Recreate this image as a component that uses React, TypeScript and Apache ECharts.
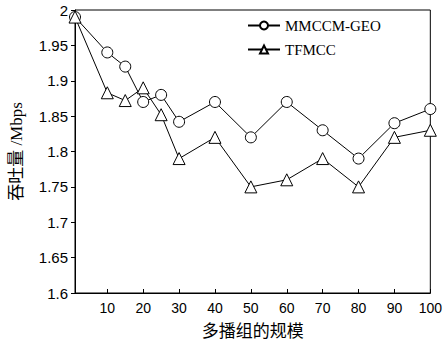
import React, { useEffect, useRef } from "react";
import * as echarts from "echarts";

const xValues = [1, 10, 15, 20, 25, 30, 40, 50, 60, 70, 80, 90, 100];
const mmccmGeo = [1.99, 1.94, 1.92, 1.87, 1.88, 1.842, 1.87, 1.82, 1.87, 1.83, 1.79, 1.84, 1.86];
const tfmcc = [1.99, 1.883, 1.872, 1.89, 1.852, 1.79, 1.82, 1.75, 1.76, 1.79, 1.75, 1.82, 1.83];
const xTicks = [10, 20, 30, 40, 50, 60, 70, 80, 90, 100];

export default function App() {
  const ref = useRef<HTMLDivElement>(null);
  useEffect(() => {
    if (!ref.current) return;
    const chart = echarts.init(ref.current, null, { renderer: "svg" });
    const mk = (vals: number[]) => xValues.map((x, i) => [x, vals[i]]);
    chart.setOption({
      animation: false,
      backgroundColor: "#fff",
      grid: { left: 73, top: 10, right: 14, bottom: 52, show: true, borderColor: "#000", borderWidth: 1 },
      legend: {
        left: 242,
        top: 13,
        orient: "vertical",
        itemGap: 9,
        itemWidth: 32,
        itemHeight: 10,
        textStyle: { fontFamily: "Liberation Serif", fontSize: 15, color: "#000" },
        data: ["MMCCM-GEO", "TFMCC"],
      },
      xAxis: {
        type: "value",
        min: 1,
        max: 100,
        name: "多播组的规模",
        nameLocation: "middle",
        nameGap: 28,
        nameTextStyle: { fontFamily: "Noto Sans CJK SC", fontSize: 17, color: "#000" },
        axisLine: { lineStyle: { color: "#000" } },
        axisTick: { inside: true, length: 4, customValues: xTicks, lineStyle: { color: "#000" } },
        axisLabel: { customValues: xTicks, fontFamily: "Liberation Sans", fontSize: 14, color: "#000", margin: 8 },
        splitLine: { show: false },
      },
      yAxis: {
        type: "value",
        min: 1.6,
        max: 2,
        interval: 0.05,
        name: "吞吐量 /Mbps",
        nameLocation: "middle",
        nameGap: 50,
        nameTextStyle: { fontFamily: "Liberation Serif, Noto Sans CJK SC", fontSize: 17, color: "#000" },
        axisLine: { show: true, lineStyle: { color: "#000" } },
        axisTick: { show: true, length: 4, lineStyle: { color: "#000" } },
        axisLabel: { fontFamily: "Liberation Sans", fontSize: 15, color: "#000", margin: 7 },
        splitLine: { show: false },
      },
      series: [
        {
          name: "MMCCM-GEO",
          type: "line",
          data: mk(mmccmGeo),
          symbol: "circle",
          symbolSize: 11,
          color: "#000",
          lineStyle: { color: "#000", width: 1 },
          itemStyle: { color: "#fff", borderColor: "#000", borderWidth: 1 },
        },
        {
          name: "TFMCC",
          type: "line",
          data: mk(tfmcc),
          symbol: "triangle",
          symbolSize: 12,
          color: "#000",
          lineStyle: { color: "#000", width: 1 },
          itemStyle: { color: "#fff", borderColor: "#000", borderWidth: 1 },
        },
      ],
    });
    return () => chart.dispose();
  }, []);
  return <div ref={ref} style={{ width: 445, height: 345, position: "absolute", left: 0, top: 0 }} />;
}
